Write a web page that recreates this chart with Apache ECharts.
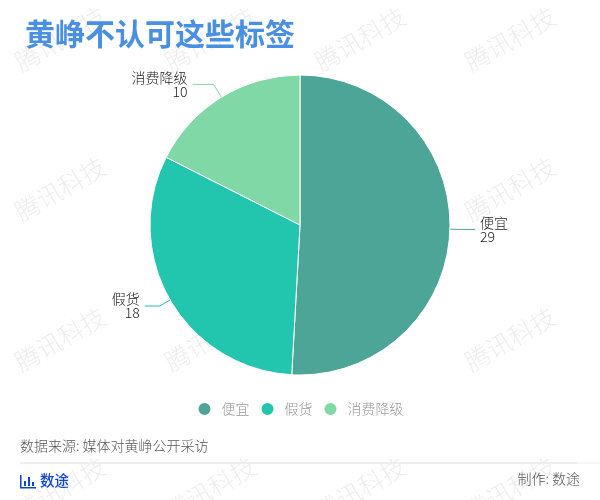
<!DOCTYPE html>
<html><head><meta charset="utf-8">
<style>html,body{margin:0;padding:0;background:#fff}#c{width:600px;height:500px}</style>
<script src="https://cdn.jsdelivr.net/npm/echarts@6/dist/echarts.min.js"></script>
</head><body><div id="c"></div>
<script>
const categories = ['便宜','假货','消费降级'];
const values = [29,18,10];
const colors = ['#4DA597','#22C5AD','#7FD8A6'];
const titleText = '黄峥不认可这些标签';
const sourceText = '数据来源: 媒体对黄峥公开采访';
const brandText = '数途';
const makerText = '制作: 数途';
const watermarkText = '腾讯科技';
const FONT = '"Noto Sans CJK SC","Microsoft YaHei",sans-serif';
const leaderFirst = [11,12,15];
const leaderSecond = [14,15,21];
const labelBottomPad = [4,0,2];

const wmCanvas = document.createElement('canvas');
wmCanvas.width = 150; wmCanvas.height = 150;
(function(){
  const g = wmCanvas.getContext('2d');
  g.translate(60,39); g.rotate(-Math.PI/6);
  g.font = '300 25px '+FONT; g.fillStyle = 'rgba(0,0,0,0.08)';
  g.textAlign='center'; g.textBaseline='middle';
  g.fillText(watermarkText,0,0);
})();

const chart = echarts.init(document.getElementById('c'), null, {renderer:'canvas'});
chart.setOption({
  animation:false,
  backgroundColor:{image:wmCanvas,repeat:'repeat'},
  color:colors,
  title:{text:titleText,left:25,top:19,padding:0,textStyle:{fontFamily:FONT,fontSize:30,fontWeight:'bold',color:'#4A90E2'}},
  legend:{bottom:78,left:'center',icon:'circle',itemWidth:14,itemHeight:14,itemGap:10,data:categories,
    textStyle:{fontFamily:FONT,fontSize:14,fontWeight:300,color:'#999',padding:[0,0,0,5]}},
  series:[{type:'pie',center:[300,225],radius:[0,150],startAngle:90,clockwise:true,
    data:categories.map((n,i)=>({name:n,value:values[i],
      label:{padding:[0,0,labelBottomPad[i],0]},
      labelLine:{length:leaderFirst[i],length2:leaderSecond[i]}})),
    itemStyle:{borderColor:'#fff',borderWidth:1},
    label:{formatter:'{b}\n{c}',fontFamily:FONT,fontSize:14,fontWeight:300,lineHeight:14,color:'#222'},
    labelLine:{lineStyle:{width:1}}
  }],
  graphic:[
    {type:'text',left:20,top:439,style:{text:sourceText,font:'300 14px '+FONT,fill:'#555'}},
    {type:'rect',shape:{x:20,y:462,width:557,height:2},style:{fill:'#EEEEEE'}},
    {type:'rect',shape:{x:577,y:462,width:23,height:2},style:{fill:'#F6F6F6'}},
    {type:'group',left:20,top:475,children:[
      {type:'rect',shape:{x:0,y:0,width:1.5,height:13},style:{fill:'#0B44D8'}},
      {type:'rect',shape:{x:0,y:12,width:16,height:1.5},style:{fill:'#0B44D8'}},
      {type:'rect',shape:{x:4,y:6,width:2,height:5},style:{fill:'#0B44D8'}},
      {type:'rect',shape:{x:8,y:2,width:2,height:9},style:{fill:'#0B44D8'}},
      {type:'rect',shape:{x:12,y:7,width:2,height:4},style:{fill:'#0B44D8'}}
    ]},
    {type:'text',left:40,top:473,style:{text:brandText,font:'500 14.5px '+FONT,fill:'#0B44D8'}},
    {type:'text',right:20,top:472,style:{text:makerText,font:'300 14px '+FONT,fill:'#555'}}
  ]
});
</script></body></html>
